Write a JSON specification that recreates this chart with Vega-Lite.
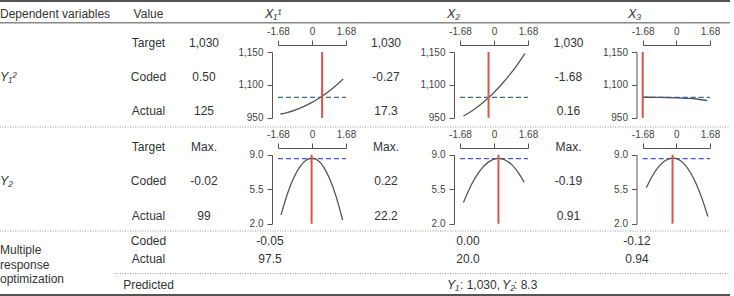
{
  "$schema": "https://vega.github.io/schema/vega-lite/v6.json",
  "width": 734,
  "height": 296,
  "autosize": {"type": "none"},
  "padding": 0,
  "background": "white",
  "config": {
    "view": {"stroke": null},
    "axis": {
      "domainColor": "#555",
      "domainWidth": 1,
      "tickColor": "#555",
      "tickWidth": 1,
      "tickSize": 5,
      "labelColor": "#444",
      "labelFont": "Liberation Sans",
      "labelFontSize": 10,
      "labelPadding": 4,
      "labelFlush": false,
      "labelOverlap": false,
      "grid": false
    }
  },
  "datasets": {
    "cells": [
      {"col": 2, "row": 1, "text": "Value"},
      {"col": 2, "row": 3, "text": "Target"}, {"col": 3, "row": 3, "text": "1,030"}, {"col": 6, "row": 3, "text": "1,030"}, {"col": 12, "row": 3, "text": "1,030"},
      {"col": 2, "row": 4, "text": "Coded"}, {"col": 3, "row": 4, "text": "0.50"}, {"col": 6, "row": 4, "text": "-0.27"}, {"col": 12, "row": 4, "text": "-1.68"},
      {"col": 2, "row": 5, "text": "Actual"}, {"col": 3, "row": 5, "text": "125"}, {"col": 6, "row": 5, "text": "17.3"}, {"col": 12, "row": 5, "text": "0.16"},
      {"col": 2, "row": 7, "text": "Target"}, {"col": 3, "row": 7, "text": "Max."}, {"col": 6, "row": 7, "text": "Max."}, {"col": 12, "row": 7, "text": "Max."},
      {"col": 2, "row": 8, "text": "Coded"}, {"col": 3, "row": 8, "text": "-0.02"}, {"col": 6, "row": 8, "text": "0.22"}, {"col": 12, "row": 8, "text": "-0.19"},
      {"col": 2, "row": 9, "text": "Actual"}, {"col": 3, "row": 9, "text": "99"}, {"col": 6, "row": 9, "text": "22.2"}, {"col": 12, "row": 9, "text": "0.91"},
      {"col": 2, "row": 11, "text": "Coded"}, {"col": 5, "row": 11, "text": "-0.05"}, {"col": 9, "row": 11, "text": "0.00"}, {"col": 14, "row": 11, "text": "-0.12"},
      {"col": 2, "row": 13, "text": "Actual"}, {"col": 5, "row": 13, "text": "97.5"}, {"col": 9, "row": 13, "text": "20.0"}, {"col": 14, "row": 13, "text": "0.94"},
      {"col": 2, "row": 17, "text": "Predicted"}
    ],
    "labels": [
      {"col": 0, "row": 1, "text": "Dependent variables"},
      {"col": 0, "row": 12, "text": "Multiple"},
      {"col": 0, "row": 14, "text": "response"},
      {"col": 0, "row": 16, "text": "optimization"},
      {"col": 8, "row": 17, "text": ": 1,030,"},
      {"col": 11, "row": 17, "text": ": 8.3"}
    ],
    "symbols": [
      {"col": 0, "row": 4, "text": "Y₁²"},
      {"col": 0, "row": 8, "text": "Y₂"},
      {"col": 4, "row": 1, "text": "X₁¹"},
      {"col": 7, "row": 1, "text": "X₂"},
      {"col": 13, "row": 1, "text": "X₃"},
      {"col": 7, "row": 17, "text": "Y₁"},
      {"col": 10, "row": 17, "text": "Y₂"}
    ],
    "heavyRules": [
      {"col": 0, "end": 15, "row": 0},
      {"col": 0, "end": 15, "row": 18}
    ],
    "headRule": [
      {"col": 0, "end": 15, "row": 2}
    ],
    "dottedRules": [
      {"col": 0, "end": 15, "row": 6},
      {"col": 0, "end": 15, "row": 10},
      {"col": 1, "end": 15, "row": 15}
    ],
    "settings": [
      {"chart": "Y1X1", "coded": 0.5, "target": 1030},
      {"chart": "Y1X2", "coded": -0.27, "target": 1030},
      {"chart": "Y1X3", "coded": -1.68, "target": 1030},
      {"chart": "Y2X1", "coded": -0.02, "target": 8.6},
      {"chart": "Y2X2", "coded": 0.22, "target": 8.6},
      {"chart": "Y2X3", "coded": -0.19, "target": 8.6}
    ],
    "curves": [
      {"chart": "Y1X1", "coded": -1.56, "response": 964.8},
      {"chart": "Y1X1", "coded": -1.23, "response": 970.4},
      {"chart": "Y1X1", "coded": -0.84, "response": 980.0},
      {"chart": "Y1X1", "coded": -0.42, "response": 993.3},
      {"chart": "Y1X1", "coded": 0.0, "response": 1010.1},
      {"chart": "Y1X1", "coded": 0.42, "response": 1030.6},
      {"chart": "Y1X1", "coded": 0.84, "response": 1063.9},
      {"chart": "Y1X1", "coded": 1.23, "response": 1100.0},
      {"chart": "Y1X1", "coded": 1.54, "response": 1108.7},
      {"chart": "Y1X2", "coded": -1.51, "response": 957.0},
      {"chart": "Y1X2", "coded": -1.13, "response": 974.7},
      {"chart": "Y1X2", "coded": -0.74, "response": 996.9},
      {"chart": "Y1X2", "coded": -0.37, "response": 1021.1},
      {"chart": "Y1X2", "coded": 0.0, "response": 1056.8},
      {"chart": "Y1X2", "coded": 0.37, "response": 1100.3},
      {"chart": "Y1X2", "coded": 0.74, "response": 1113.8},
      {"chart": "Y1X2", "coded": 1.13, "response": 1129.6},
      {"chart": "Y1X2", "coded": 1.52, "response": 1147.7},
      {"chart": "Y1X3", "coded": -1.65, "response": 1030.4},
      {"chart": "Y1X3", "coded": -1.0, "response": 1030.0},
      {"chart": "Y1X3", "coded": -0.5, "response": 1029.2},
      {"chart": "Y1X3", "coded": 0.0, "response": 1028.0},
      {"chart": "Y1X3", "coded": 0.5, "response": 1026.1},
      {"chart": "Y1X3", "coded": 1.0, "response": 1023.4},
      {"chart": "Y1X3", "coded": 1.55, "response": 1016.7},
      {"chart": "Y2X1", "coded": -1.53, "response": 2.9},
      {"chart": "Y2X1", "coded": -1.2, "response": 5.12},
      {"chart": "Y2X1", "coded": -0.9, "response": 6.67},
      {"chart": "Y2X1", "coded": -0.6, "response": 7.77},
      {"chart": "Y2X1", "coded": -0.3, "response": 8.44},
      {"chart": "Y2X1", "coded": 0.0, "response": 8.64},
      {"chart": "Y2X1", "coded": 0.3, "response": 8.41},
      {"chart": "Y2X1", "coded": 0.6, "response": 7.67},
      {"chart": "Y2X1", "coded": 0.9, "response": 6.43},
      {"chart": "Y2X1", "coded": 1.2, "response": 4.7},
      {"chart": "Y2X1", "coded": 1.51, "response": 2.39},
      {"chart": "Y2X2", "coded": -1.51, "response": 4.14},
      {"chart": "Y2X2", "coded": -1.1, "response": 6.02},
      {"chart": "Y2X2", "coded": -0.7, "response": 7.36},
      {"chart": "Y2X2", "coded": -0.3, "response": 8.22},
      {"chart": "Y2X2", "coded": 0.1, "response": 8.61},
      {"chart": "Y2X2", "coded": 0.22, "response": 8.63},
      {"chart": "Y2X2", "coded": 0.5, "response": 8.51},
      {"chart": "Y2X2", "coded": 0.9, "response": 7.94},
      {"chart": "Y2X2", "coded": 1.2, "response": 7.19},
      {"chart": "Y2X2", "coded": 1.49, "response": 6.21},
      {"chart": "Y2X3", "coded": -1.5, "response": 5.64},
      {"chart": "Y2X3", "coded": -1.2, "response": 6.84},
      {"chart": "Y2X3", "coded": -0.9, "response": 7.74},
      {"chart": "Y2X3", "coded": -0.6, "response": 8.33},
      {"chart": "Y2X3", "coded": -0.3, "response": 8.63},
      {"chart": "Y2X3", "coded": -0.16, "response": 8.66},
      {"chart": "Y2X3", "coded": 0.1, "response": 8.53},
      {"chart": "Y2X3", "coded": 0.4, "response": 8.04},
      {"chart": "Y2X3", "coded": 0.7, "response": 7.19},
      {"chart": "Y2X3", "coded": 1.0, "response": 6.0},
      {"chart": "Y2X3", "coded": 1.3, "response": 4.44},
      {"chart": "Y2X3", "coded": 1.57, "response": 2.73}
    ]
  },
  "layer": [
    {
      "encoding": {
        "x": {"field": "col", "type": "quantitative", "axis": null,
              "scale": {"domain": [0, 1, 2, 3, 4, 5, 6, 7, 8, 9, 10, 11, 12, 13, 14, 15],
                        "range": [0, 115, 148.5, 204, 265, 270, 386, 447, 460, 468, 502, 514, 568.5, 628, 637, 730],
                        "nice": false, "zero": false}},
        "y": {"field": "row", "type": "quantitative", "axis": null,
              "scale": {"domain": [0, 1, 2, 3, 4, 5, 6, 7, 8, 9, 10, 11, 12, 13, 14, 15, 16, 17, 18],
                        "range": [1, 14, 22.7, 42.7, 76.7, 111, 127, 146.7, 181, 216, 231, 241, 250, 259, 264.5, 273.5, 278.5, 284.5, 295],
                        "nice": false, "zero": false}}
      },
      "layer": [
        {"data": {"name": "heavyRules"}, "mark": {"type": "rule", "color": "#555", "strokeWidth": 2},
         "encoding": {"x2": {"field": "end"}}},
        {"data": {"name": "headRule"}, "mark": {"type": "rule", "color": "#888", "strokeWidth": 1.4},
         "encoding": {"x2": {"field": "end"}}},
        {"data": {"name": "dottedRules"}, "mark": {"type": "rule", "color": "#999", "strokeWidth": 1, "strokeDash": [1, 1.5]},
         "encoding": {"x2": {"field": "end"}}},
        {"data": {"name": "cells"},
         "mark": {"type": "text", "align": "center", "baseline": "middle", "font": "Liberation Sans", "fontSize": 12, "color": "#333"},
         "encoding": {"text": {"field": "text"}}},
        {"data": {"name": "labels"},
         "mark": {"type": "text", "align": "left", "baseline": "middle", "font": "Liberation Sans", "fontSize": 12, "color": "#333"},
         "encoding": {"text": {"field": "text"}}},
        {"data": {"name": "symbols"},
         "mark": {"type": "text", "align": "left", "baseline": "middle", "font": "Liberation Sans", "fontSize": 12.5, "fontStyle": "italic", "color": "#333"},
         "encoding": {"text": {"field": "text"}}}
      ]
    },
    {
      "layer": [
        {"data": {"name": "settings"}, "transform": [{"filter": "datum.chart === 'Y1X1'"}],
         "mark": {"type": "rule", "color": "#3e5fb4", "strokeWidth": 1.3, "strokeDash": [5, 3]},
         "encoding": {"x": {"datum": -1.68, "type": "quantitative"}, "x2": {"datum": 1.68},
                      "y": {"field": "target", "type": "quantitative", "title": null}}},
        {"data": {"name": "curves"}, "transform": [{"filter": "datum.chart === 'Y1X1'"}],
         "mark": {"type": "line", "interpolate": "monotone", "color": "#555", "strokeWidth": 1.3},
         "encoding": {
           "x": {"field": "coded", "type": "quantitative", "title": null,
                 "scale": {"domain": [-1.68, 1.68], "range": [278, 346], "nice": false, "zero": false},
                 "axis": {"orient": "top", "offset": -45, "values": [-1.68, 0, 1.68],
                          "labelExpr": "datum.value === 0 ? '0' : (datum.value < 0 ? '-' : '') + format(abs(datum.value), '.2f')"}},
           "y": {"field": "response", "type": "quantitative", "title": null,
                 "scale": {"domain": [950, 1030, 1100, 1150], "range": [117.8, 97.3, 84.7, 52], "nice": false, "zero": false},
                 "axis": {"orient": "left", "offset": -272, "values": [950, 1100, 1150], "format": ",d"}}}},
        {"data": {"name": "settings"}, "transform": [{"filter": "datum.chart === 'Y1X1'"}],
         "mark": {"type": "rule", "color": "#dc5448", "strokeWidth": 2},
         "encoding": {"x": {"field": "coded", "type": "quantitative", "title": null},
                      "y": {"datum": 950, "type": "quantitative"}, "y2": {"datum": 1150}}}
      ]
    },
    {
      "layer": [
        {"data": {"name": "settings"}, "transform": [{"filter": "datum.chart === 'Y1X2'"}],
         "mark": {"type": "rule", "color": "#3e5fb4", "strokeWidth": 1.3, "strokeDash": [5, 3]},
         "encoding": {"x": {"datum": -1.68, "type": "quantitative"}, "x2": {"datum": 1.68},
                      "y": {"field": "target", "type": "quantitative", "title": null}}},
        {"data": {"name": "curves"}, "transform": [{"filter": "datum.chart === 'Y1X2'"}],
         "mark": {"type": "line", "interpolate": "monotone", "color": "#555", "strokeWidth": 1.3},
         "encoding": {
           "x": {"field": "coded", "type": "quantitative", "title": null,
                 "scale": {"domain": [-1.68, 1.68], "range": [460, 528], "nice": false, "zero": false},
                 "axis": {"orient": "top", "offset": -45, "values": [-1.68, 0, 1.68],
                          "labelExpr": "datum.value === 0 ? '0' : (datum.value < 0 ? '-' : '') + format(abs(datum.value), '.2f')"}},
           "y": {"field": "response", "type": "quantitative", "title": null,
                 "scale": {"domain": [950, 1030, 1100, 1150], "range": [117.8, 97.3, 84.7, 52], "nice": false, "zero": false},
                 "axis": {"orient": "left", "offset": -454, "values": [950, 1100, 1150], "format": ",d"}}}},
        {"data": {"name": "settings"}, "transform": [{"filter": "datum.chart === 'Y1X2'"}],
         "mark": {"type": "rule", "color": "#dc5448", "strokeWidth": 2},
         "encoding": {"x": {"field": "coded", "type": "quantitative", "title": null},
                      "y": {"datum": 950, "type": "quantitative"}, "y2": {"datum": 1150}}}
      ]
    },
    {
      "layer": [
        {"data": {"name": "settings"}, "transform": [{"filter": "datum.chart === 'Y1X3'"}],
         "mark": {"type": "rule", "color": "#3e5fb4", "strokeWidth": 1.3, "strokeDash": [5, 3]},
         "encoding": {"x": {"datum": -1.68, "type": "quantitative"}, "x2": {"datum": 1.68},
                      "y": {"field": "target", "type": "quantitative", "title": null}}},
        {"data": {"name": "curves"}, "transform": [{"filter": "datum.chart === 'Y1X3'"}],
         "mark": {"type": "line", "interpolate": "monotone", "color": "#4d5060", "strokeWidth": 1.3},
         "encoding": {
           "x": {"field": "coded", "type": "quantitative", "title": null,
                 "scale": {"domain": [-1.68, 1.68], "range": [642.7, 710], "nice": false, "zero": false},
                 "axis": {"orient": "top", "offset": -45, "values": [-1.68, 0, 1.68],
                          "labelExpr": "datum.value === 0 ? '0' : (datum.value < 0 ? '-' : '') + format(abs(datum.value), '.2f')"}},
           "y": {"field": "response", "type": "quantitative", "title": null,
                 "scale": {"domain": [950, 1030, 1100, 1150], "range": [117.8, 97.3, 84.7, 52], "nice": false, "zero": false},
                 "axis": {"orient": "left", "offset": -636.5, "values": [950, 1100, 1150], "format": ",d"}}}},
        {"data": {"name": "settings"}, "transform": [{"filter": "datum.chart === 'Y1X3'"}],
         "mark": {"type": "rule", "color": "#dc5448", "strokeWidth": 2},
         "encoding": {"x": {"field": "coded", "type": "quantitative", "title": null},
                      "y": {"datum": 950, "type": "quantitative"}, "y2": {"datum": 1150}}}
      ]
    },
    {
      "layer": [
        {"data": {"name": "settings"}, "transform": [{"filter": "datum.chart === 'Y2X1'"}],
         "mark": {"type": "rule", "color": "#3e5fb4", "strokeWidth": 1.3, "strokeDash": [5, 3]},
         "encoding": {"x": {"datum": -1.68, "type": "quantitative"}, "x2": {"datum": 1.68},
                      "y": {"field": "target", "type": "quantitative", "title": null}}},
        {"data": {"name": "curves"}, "transform": [{"filter": "datum.chart === 'Y2X1'"}],
         "mark": {"type": "line", "interpolate": "monotone", "color": "#555", "strokeWidth": 1.3},
         "encoding": {
           "x": {"field": "coded", "type": "quantitative", "title": null,
                 "scale": {"domain": [-1.68, 1.68], "range": [278, 346], "nice": false, "zero": false},
                 "axis": {"orient": "top", "offset": -148, "values": [-1.68, 0, 1.68],
                          "labelExpr": "datum.value === 0 ? '0' : (datum.value < 0 ? '-' : '') + format(abs(datum.value), '.2f')"}},
           "y": {"field": "response", "type": "quantitative", "title": null,
                 "scale": {"domain": [2, 9], "range": [223.7, 154.7], "nice": false, "zero": false},
                 "axis": {"orient": "left", "offset": -272, "values": [2, 5.5, 9], "format": ".1f"}}}},
        {"data": {"name": "settings"}, "transform": [{"filter": "datum.chart === 'Y2X1'"}],
         "mark": {"type": "rule", "color": "#dc5448", "strokeWidth": 2},
         "encoding": {"x": {"field": "coded", "type": "quantitative", "title": null},
                      "y": {"datum": 2, "type": "quantitative"}, "y2": {"datum": 9}}}
      ]
    },
    {
      "layer": [
        {"data": {"name": "settings"}, "transform": [{"filter": "datum.chart === 'Y2X2'"}],
         "mark": {"type": "rule", "color": "#3e5fb4", "strokeWidth": 1.3, "strokeDash": [5, 3]},
         "encoding": {"x": {"datum": -1.68, "type": "quantitative"}, "x2": {"datum": 1.68},
                      "y": {"field": "target", "type": "quantitative", "title": null}}},
        {"data": {"name": "curves"}, "transform": [{"filter": "datum.chart === 'Y2X2'"}],
         "mark": {"type": "line", "interpolate": "monotone", "color": "#555", "strokeWidth": 1.3},
         "encoding": {
           "x": {"field": "coded", "type": "quantitative", "title": null,
                 "scale": {"domain": [-1.68, 1.68], "range": [460, 528], "nice": false, "zero": false},
                 "axis": {"orient": "top", "offset": -148, "values": [-1.68, 0, 1.68],
                          "labelExpr": "datum.value === 0 ? '0' : (datum.value < 0 ? '-' : '') + format(abs(datum.value), '.2f')"}},
           "y": {"field": "response", "type": "quantitative", "title": null,
                 "scale": {"domain": [2, 9], "range": [223.7, 154.7], "nice": false, "zero": false},
                 "axis": {"orient": "left", "offset": -454, "values": [2, 5.5, 9], "format": ".1f"}}}},
        {"data": {"name": "settings"}, "transform": [{"filter": "datum.chart === 'Y2X2'"}],
         "mark": {"type": "rule", "color": "#dc5448", "strokeWidth": 2},
         "encoding": {"x": {"field": "coded", "type": "quantitative", "title": null},
                      "y": {"datum": 2, "type": "quantitative"}, "y2": {"datum": 9}}}
      ]
    },
    {
      "layer": [
        {"data": {"name": "settings"}, "transform": [{"filter": "datum.chart === 'Y2X3'"}],
         "mark": {"type": "rule", "color": "#3e5fb4", "strokeWidth": 1.3, "strokeDash": [5, 3]},
         "encoding": {"x": {"datum": -1.68, "type": "quantitative"}, "x2": {"datum": 1.68},
                      "y": {"field": "target", "type": "quantitative", "title": null}}},
        {"data": {"name": "curves"}, "transform": [{"filter": "datum.chart === 'Y2X3'"}],
         "mark": {"type": "line", "interpolate": "monotone", "color": "#555", "strokeWidth": 1.3},
         "encoding": {
           "x": {"field": "coded", "type": "quantitative", "title": null,
                 "scale": {"domain": [-1.68, 1.68], "range": [642.7, 710], "nice": false, "zero": false},
                 "axis": {"orient": "top", "offset": -148, "values": [-1.68, 0, 1.68],
                          "labelExpr": "datum.value === 0 ? '0' : (datum.value < 0 ? '-' : '') + format(abs(datum.value), '.2f')"}},
           "y": {"field": "response", "type": "quantitative", "title": null,
                 "scale": {"domain": [2, 9], "range": [223.7, 154.7], "nice": false, "zero": false},
                 "axis": {"orient": "left", "offset": -636.5, "values": [2, 5.5, 9], "format": ".1f"}}}},
        {"data": {"name": "settings"}, "transform": [{"filter": "datum.chart === 'Y2X3'"}],
         "mark": {"type": "rule", "color": "#dc5448", "strokeWidth": 2},
         "encoding": {"x": {"field": "coded", "type": "quantitative", "title": null},
                      "y": {"datum": 2, "type": "quantitative"}, "y2": {"datum": 9}}}
      ]
    }
  ],
  "resolve": {
    "scale": {"x": "independent", "y": "independent"},
    "axis": {"x": "independent", "y": "independent"}
  }
}
